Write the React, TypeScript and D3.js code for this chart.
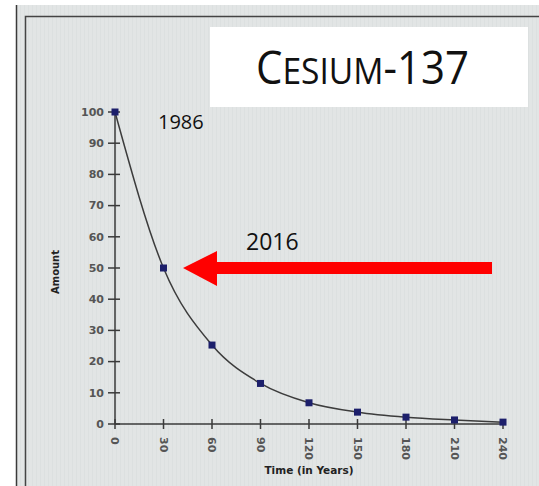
import React from "react";
import * as d3 from "d3";

const years = [0, 30, 60, 90, 120, 150, 180, 210, 240];
const amounts = [100, 50, 25.3, 13, 6.8, 3.8, 2.2, 1.3, 0.6];
const yTicks = [0, 10, 20, 30, 40, 50, 60, 70, 80, 90, 100];

const W = 539;
const H = 486;

const App: React.FC = () => {
  const x = d3.scaleLinear().domain([0, 240]).range([115, 503]);
  const y = d3.scaleLinear().domain([0, 100]).range([424, 112]);

  const line = d3
    .line<number>()
    .x((_, i) => x(years[i]))
    .y((d) => y(d))
    .curve(d3.curveMonotoneX);

  const tickFont = "'DejaVu Sans', sans-serif";

  return (
    <svg
      width={W}
      height={H}
      style={{ position: "fixed", top: 0, left: 0, background: "#fff" }}
    >
      <defs>
        <pattern id="grain" width="4" height="4" patternUnits="userSpaceOnUse">
          <rect width="4" height="4" fill="#e2e5e5" />
          <rect width="1" height="4" fill="#d8dcdc" opacity={0.6} />
        </pattern>
      </defs>

      {/* photo area */}
      <rect x={16} y={5} width={W - 16} height={H - 5} fill="url(#grain)" />
      <line x1={16.5} y1={5} x2={16.5} y2={H} stroke="#3a3a3a" strokeWidth={1.5} />
      <path d={`M25.5,${H} V16.5 H${W}`} fill="none" stroke="#444" strokeWidth={1.5} />

      {/* title box */}
      <rect x={210} y={27} width={318} height={80} fill="#fff" />
      <text
        x={256}
        y={84}
        fontFamily="'Open Sans', 'Noto Sans', sans-serif"
        fill="#111"
        fontSize={45}
        textLength={213}
        lengthAdjust="spacingAndGlyphs"
      >
        C<tspan fontSize={36}>ESIUM</tspan>-137
      </text>

      {/* y axis */}
      <line x1={x(0)} y1={y(0)} x2={x(0)} y2={y(100)} stroke="#3a3a3a" strokeWidth={1.5} />
      {yTicks.map((t) => (
        <g key={t}>
          <line x1={x(0) - 7} x2={x(0) + 5} y1={y(t)} y2={y(t)} stroke="#3a3a3a" strokeWidth={1.5} />
          <text
            x={x(0) - 11}
            y={y(t)}
            dy="0.35em"
            textAnchor="end"
            fontFamily={tickFont}
            fontWeight="bold"
            fontSize={11}
            fill="#555"
          >
            {t}
          </text>
        </g>
      ))}

      {/* x axis */}
      <line x1={x(0)} y1={y(0)} x2={x(240)} y2={y(0)} stroke="#3a3a3a" strokeWidth={1.5} />
      {years.map((t) => (
        <g key={t}>
          <line x1={x(t)} x2={x(t)} y1={y(0) - 5} y2={y(0) + 5} stroke="#3a3a3a" strokeWidth={1.5} />
          <text
            transform={`translate(${x(t)},${y(0) + 13}) rotate(90)`}
            dy="0.35em"
            textAnchor="start"
            fontFamily={tickFont}
            fontWeight="bold"
            fontSize={11}
            fill="#555"
          >
            {t}
          </text>
        </g>
      ))}

      <text
        x={(x(0) + x(240)) / 2}
        y={474}
        textAnchor="middle"
        fontFamily={tickFont}
        fontWeight="bold"
        fontSize={10.5}
        fill="#222"
      >
        Time (in Years)
      </text>
      <text
        transform={`translate(59,${(y(0) + y(100)) / 2 + 4}) rotate(-90)`}
        textAnchor="middle"
        fontFamily={tickFont}
        fontWeight="bold"
        fontSize={10}
        fill="#222"
      >
        Amount
      </text>

      {/* data */}
      <path d={line(amounts) || ""} fill="none" stroke="#3c3c3c" strokeWidth={1.5} />
      {amounts.map((v, i) => (
        <rect
          key={i}
          x={x(years[i]) - 3.5}
          y={y(v) - 3.5}
          width={7}
          height={7}
          fill="#1c1f6b"
        />
      ))}

      {/* annotations */}
      <text x={158} y={129} fontFamily="'Open Sans', 'Noto Sans', sans-serif" fontSize={20} fill="#111">
        1986
      </text>
      <text x={246} y={250} fontFamily="'Open Sans', 'Noto Sans', sans-serif" fontSize={23} fill="#111">
        2016
      </text>
      <path
        d={`M492,${y(50) - 6} H217 V${y(50) - 17} L183,${y(50)} L217,${y(50) + 18} V${y(50) + 6} H492 Z`}
        fill="#ff0000"
      />
    </svg>
  );
};

export default App;
